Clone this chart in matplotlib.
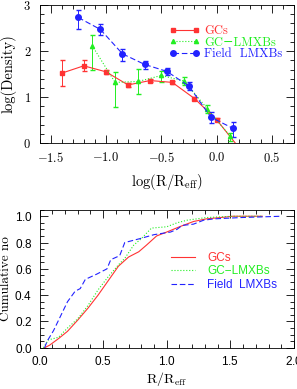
import numpy as np
import matplotlib
matplotlib.use('Agg')
import matplotlib.pyplot as plt
from matplotlib.ticker import MultipleLocator

plt.rcParams['font.family'] = ['cmr10', 'DejaVu Serif']
plt.rcParams['mathtext.fontset'] = 'cm'
plt.rcParams['axes.formatter.use_mathtext'] = True

# top panel: log density profiles
gc_x = [-1.4, -1.2, -1.0, -0.8, -0.6, -0.4, -0.2, 0.0, 0.2]
gc_y = [1.52, 1.68, 1.55, 1.265, 1.36, 1.32, 0.97, 0.51, -0.09]
gc_err = [0.28, 0.12, 0.05, 0.04, 0.03, 0.03, 0.03, 0.03, 0.03]

gcl_x = [-1.125, -0.917, -0.708, -0.5, -0.292, -0.083, 0.125]
gcl_y = [2.12, 1.32, 1.34, 1.47, 1.35, 0.745, 0.145]
gcl_lo = [0.54, 0.54, 0.28, 0.14, 0.08, 0.095, 0.105]
gcl_hi = [0.24, 0.23, 0.27, 0.10, 0.08, 0.085, 0.085]

fl_x = [-1.25, -1.05, -0.85, -0.65, -0.45, -0.25, -0.05, 0.15]
fl_y = [2.73, 2.47, 1.94, 1.71, 1.56, 1.24, 0.56, 0.32]
fl_lo = [0.26, 0.11, 0.15, 0.10, 0.08, 0.08, 0.13, 0.19]
fl_hi = [0.155, 0.11, 0.11, 0.08, 0.07, 0.08, 0.12, 0.14]

# bottom panel: cumulative distributions
cum_gc_x = [0.04, 0.08, 0.15, 0.22, 0.30, 0.38, 0.46, 0.54, 0.62, 0.70, 0.78,
            0.84, 0.92, 1.0, 1.1, 1.21, 1.31, 1.42, 1.52, 1.75]
cum_gc_y = [0.0, 0.02, 0.07, 0.125, 0.21, 0.30, 0.40, 0.51, 0.62, 0.69, 0.73,
            0.78, 0.85, 0.88, 0.92, 0.96, 0.98, 0.99, 1.0, 1.0]

cum_gcl_x = [0.03, 0.07, 0.15, 0.22, 0.30, 0.38, 0.46, 0.54, 0.62, 0.67, 0.74,
             0.80, 0.88, 1.0, 1.08, 1.16, 1.31, 1.52, 1.75]
cum_gcl_y = [0.0, 0.06, 0.08, 0.15, 0.22, 0.32, 0.44, 0.54, 0.63, 0.68, 0.78,
             0.83, 0.91, 0.92, 0.95, 0.97, 0.99, 1.0, 1.0]

cum_fl_x = [0.04, 0.06, 0.11, 0.15, 0.17, 0.22, 0.28, 0.32, 0.36, 0.45, 0.53,
            0.56, 0.63, 0.67, 0.79, 0.90, 1.03, 1.08, 1.12, 1.21, 1.29, 1.37,
            1.58, 1.9]
cum_fl_y = [0.0, 0.05, 0.13, 0.21, 0.25, 0.35, 0.43, 0.45, 0.52, 0.56, 0.60,
            0.67, 0.70, 0.80, 0.83, 0.86, 0.88, 0.90, 0.93, 0.94, 0.97, 0.98,
            0.99, 1.0]

red = '#ff3333'
green = '#22ee22'
blue = '#2222ff'
sans = ['Liberation Sans', 'DejaVu Sans']

fig = plt.figure(figsize=(2.97, 3.89), dpi=100)
ax1 = fig.add_axes([0.133, 0.632, 0.857, 0.355])
ax2 = fig.add_axes([0.133, 0.106, 0.857, 0.355])

ax1.errorbar(gc_x, gc_y, yerr=gc_err, color=red, marker='s', ms=2.6, lw=0.8,
             elinewidth=0.7, capsize=1.8, label='GCs')
ax1.errorbar(gcl_x, gcl_y, yerr=[gcl_lo, gcl_hi], color=green, marker='^',
             ms=3, lw=0.8, ls=':', elinewidth=0.7, capsize=1.8, label='GC\u2212LMXBs')
ax1.errorbar(fl_x, fl_y, yerr=[fl_lo, fl_hi], color=blue, marker='o', ms=4,
             lw=0.8, ls=(0, (5, 2.5)), elinewidth=0.7, capsize=1.8,
             label='Field  LMXBs')

ax1.set_xlim(-1.6, 0.7)
ax1.set_ylim(0, 3)
ax1.xaxis.set_major_locator(MultipleLocator(0.5))
ax1.xaxis.set_minor_locator(MultipleLocator(0.1))
ax1.yaxis.set_major_locator(MultipleLocator(1))
ax1.yaxis.set_minor_locator(MultipleLocator(0.2))
ax1.set_xlabel(r'log(R/R$_{\rm eff}$)', fontsize=10.5, labelpad=5)
ax1.set_ylabel('log(Density)', fontsize=10.5, labelpad=5)
ax1.tick_params(which='both', labelsize=9, pad=6)

h, l = ax1.get_legend_handles_labels()
leg1 = ax1.legend([x[0] for x in h], l, loc='upper right', bbox_to_anchor=(0.985, 0.91),
                  frameon=False, fontsize=9, numpoints=2, handlelength=2.5,
                  handletextpad=0.35, labelspacing=-0.05, borderaxespad=0.2)
for t, c in zip(leg1.get_texts(), [red, green, blue]):
    t.set_color(c)

ax2.plot(cum_gc_x, cum_gc_y, color=red, lw=0.8, label='GCs')
ax2.plot(cum_gcl_x, cum_gcl_y, color=green, lw=0.8, ls=':', label='GC\u2212LMXBs')
ax2.plot(cum_fl_x, cum_fl_y, color=blue, lw=0.8, ls=(0, (5, 2.5)), label='Field  LMXBs')

ax2.set_xlim(0, 2)
ax2.set_ylim(0, 1.05)
ax2.xaxis.set_major_locator(MultipleLocator(0.5))
ax2.xaxis.set_minor_locator(MultipleLocator(0.1))
ax2.yaxis.set_major_locator(MultipleLocator(0.2))
ax2.yaxis.set_minor_locator(MultipleLocator(0.05))
ax2.set_xlabel(r'R/R$_{\rm eff}$', fontsize=10, labelpad=2)
ax2.set_ylabel('Cumulative no', fontsize=9.5, labelpad=2)
ax2.tick_params(which='both', labelsize=8.5, pad=5)
for lab in ax2.get_xticklabels() + ax2.get_yticklabels():
    lab.set_family(sans)

leg2 = ax2.legend(loc='upper left', bbox_to_anchor=(0.5, 0.73), frameon=False,
                  prop={'family': sans, 'size': 8.5}, handlelength=2.0,
                  handletextpad=1.0, labelspacing=0.15, borderaxespad=0.0)
for t, c in zip(leg2.get_texts(), [red, green, blue]):
    t.set_color(c)

for ax in (ax1, ax2):
    ax.tick_params(which='both', direction='in', top=True, right=True, width=0.6)
    ax.tick_params(which='major', length=5.5)
    ax.tick_params(which='minor', length=3)
    for s in ax.spines.values():
        s.set_linewidth(0.6)

fig.savefig('out.png', dpi=100)
